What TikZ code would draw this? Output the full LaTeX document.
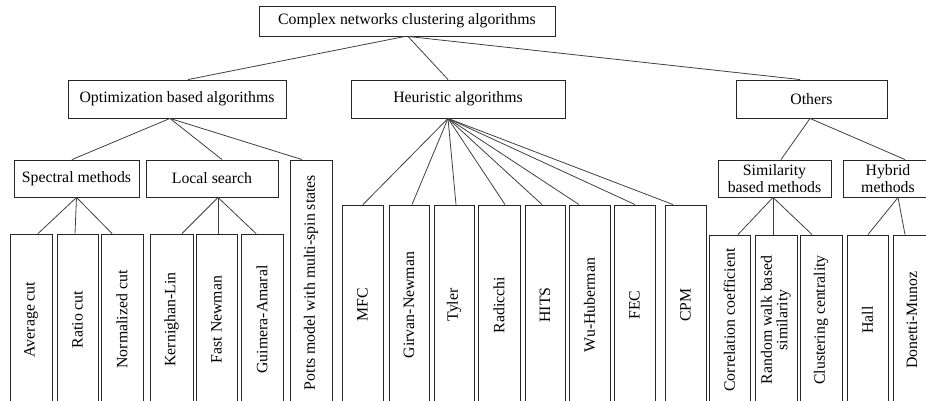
\documentclass[tikz,border=0pt]{standalone}
\usepackage{fontspec}
\setmainfont{Liberation Serif}
\usetikzlibrary{positioning}
\tikzset{
  box/.style={draw=black!85, line width=0.9pt, inner sep=0pt, align=center,
    font=\fontsize{15.8}{17.5}\selectfont},
  vbox/.style={box, minimum width=#1},
  link/.style={draw=black!75, line width=0.8pt}
}
\newcommand{\rt}[1]{\rotatebox{90}{#1}}
\begin{document}
\begin{tikzpicture}[x=1pt,y=-1pt]
\useasboundingbox (0,0) rectangle (926,401);
\clip (0,0) rectangle (926,401);
% level 0/1
\node[box, minimum width=296pt, minimum height=30pt] (root) at (407,21) {Complex networks clustering algorithms};
\node[box, minimum width=218pt, minimum height=38pt] (opt) at (177,99) {Optimization based algorithms};
\node[box, minimum width=214pt, minimum height=38pt] (heur) at (458,99) {Heuristic algorithms};
\node[box, minimum width=151pt, minimum height=38pt] (oth) at (811.5,99) {Others};
% level 2
\node[box, minimum width=125pt, minimum height=37pt] (spec) at (76.5,178.5) {Spectral methods};
\node[box, minimum width=132pt, minimum height=37pt] (loc) at (212,178.5) {Local search};
\node[box, minimum width=42pt, minimum height=245pt] (potts) at (311,282.5) {\rt{Potts model with multi-spin states}};
\node[box, minimum width=113pt, minimum height=37pt] (sim) at (774.5,178.5) {Similarity\\based methods};
\node[box, minimum width=90pt, minimum height=37pt] (hyb) at (888,178.5) {Hybrid\\methods};
% spectral children (top 234)
\node[box, minimum width=42pt, minimum height=171pt] (avg) at (31,319.5) {\rt{Average cut}};
\node[box, minimum width=41pt, minimum height=171pt] (ratio) at (77.5,319.5) {\rt{Ratio cut}};
\node[box, minimum width=42pt, minimum height=171pt] (norm) at (122,319.5) {\rt{Normalized cut}};
% local search children
\node[box, minimum width=43pt, minimum height=171pt] (kl) at (171.5,319.5) {\rt{Kernighan-Lin}};
\node[box, minimum width=41pt, minimum height=171pt] (fast) at (216.5,319.5) {\rt{Fast Newman}};
\node[box, minimum width=42pt, minimum height=171pt] (guim) at (262,319.5) {\rt{Guimera-Amaral}};
% heuristic children (top 205)
\node[box, minimum width=41pt, minimum height=200pt] (mfc) at (362.5,305) {\rt{MFC}};
\node[box, minimum width=40pt, minimum height=200pt] (gn) at (409,305) {\rt{Girvan-Newman}};
\node[box, minimum width=40pt, minimum height=200pt] (tyler) at (454,305) {\rt{Tyler}};
\node[box, minimum width=42pt, minimum height=200pt] (rad) at (499,305) {\rt{Radicchi}};
\node[box, minimum width=40pt, minimum height=200pt] (hits) at (545,305) {\rt{HITS}};
\node[box, minimum width=41pt, minimum height=200pt] (wu) at (589.5,305) {\rt{Wu-Huberman}};
\node[box, minimum width=41pt, minimum height=200pt] (fec) at (634.5,305) {\rt{FEC}};
\node[box, minimum width=41pt, minimum height=200pt] (cpm) at (685.5,305) {\rt{CPM}};
% similarity children (top 235)
\node[box, minimum width=41pt, minimum height=170pt] (corr) at (729.5,320) {\rt{Correlation coefficient}};
\node[box, minimum width=42pt, minimum height=170pt] (rw) at (776,320) {\rt{\begin{tabular}{@{}c@{}}Random walk based\\[-2pt] similarity\end{tabular}}};
\node[box, minimum width=42pt, minimum height=170pt] (clu) at (821,320) {\rt{Clustering centrality}};
% hybrid children
\node[box, minimum width=41pt, minimum height=170pt] (hall) at (867.5,320) {\rt{Hall}};
\node[box, minimum width=38pt, minimum height=170pt] (don) at (912,320) {\rt{Donetti-Munoz}};
% connectors
\draw[link] ([xshift=-2pt]root.south) -- ([xshift=11pt]opt.north);
\draw[link] ([xshift=1pt]root.south) -- ([xshift=-10pt]heur.north);
\draw[link] ([xshift=1pt]root.south) -- ([xshift=-11.5pt]oth.north);
\draw[link] ([xshift=-7pt]opt.south) -- ([xshift=-4.5pt]spec.north);
\draw[link] ([xshift=-7pt]opt.south) -- ([xshift=10pt]loc.north);
\draw[link] ([xshift=-7pt]opt.south) -- ([xshift=-9pt]potts.north);
\draw[link] (spec.south) -- ([xshift=7pt]avg.north);
\draw[link] (spec.south) -- ([xshift=-2.5pt]ratio.north);
\draw[link] (spec.south) -- ([xshift=-10pt]norm.north);
\draw[link] ([xshift=6pt]loc.south) -- ([xshift=10.5pt]kl.north);
\draw[link] ([xshift=6pt]loc.south) -- ([xshift=1.5pt]fast.north);
\draw[link] ([xshift=6pt]loc.south) -- ([xshift=-6pt]guim.north);
\foreach \n/\s in {mfc/0.5, gn/3, tyler/2, rad/6, hits/-3, wu/-10.5, fec/0.5, cpm/-12.5}
  \draw[link] ([xshift=-10pt]heur.south) -- ([xshift=\s pt]\n.north);
\draw[link] ([xshift=-1.5pt]oth.south) -- ([xshift=6.5pt]sim.north);
\draw[link] ([xshift=-1.5pt]oth.south) -- ([xshift=17pt]hyb.north);
\draw[link] ([xshift=-1.5pt]sim.south) -- ([xshift=8.5pt]corr.north);
\draw[link] ([xshift=-1.5pt]sim.south) -- ([xshift=-3pt]rw.north);
\draw[link] ([xshift=-1.5pt]sim.south) -- ([xshift=-9pt]clu.north);
\draw[link] ([xshift=10pt]hyb.south) -- ([xshift=0.5pt]hall.north);
\draw[link] ([xshift=10pt]hyb.south) -- ([xshift=-7pt]don.north);
\end{tikzpicture}
\end{document}
